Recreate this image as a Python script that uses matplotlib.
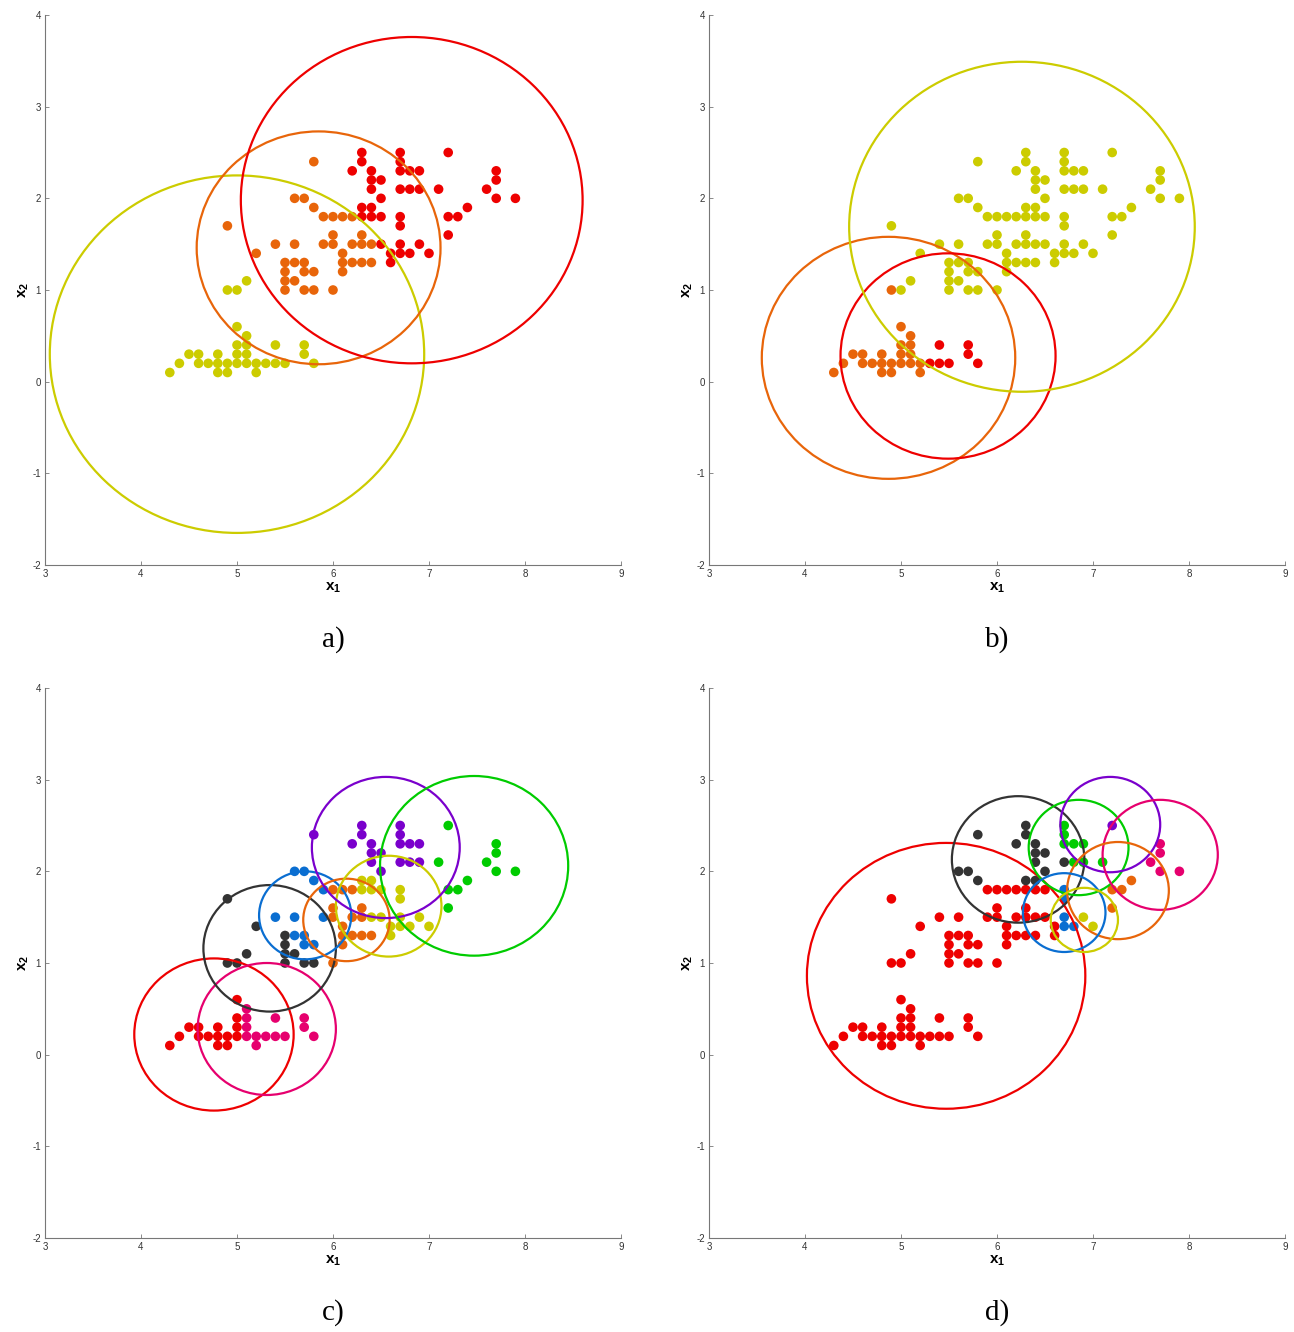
import matplotlib
matplotlib.use("Agg")
import matplotlib.pyplot as plt
from matplotlib.patches import Circle

plt.rcParams['axes.unicode_minus'] = False
plt.rcParams['font.family'] = ['Liberation Sans', 'DejaVu Sans']
plt.rcParams['mathtext.fontset'] = 'custom'
plt.rcParams['mathtext.bf'] = 'Liberation Sans:bold'
plt.rcParams['mathtext.rm'] = 'Liberation Sans'

# iris data: sepal length (x1) grouped by petal width (x2), unique points only
x2_levels = [0.1, 0.2, 0.3, 0.4, 0.5, 0.6, 1.0, 1.1, 1.2, 1.3, 1.4, 1.5,
             1.6, 1.7, 1.8, 1.9, 2.0, 2.1, 2.2, 2.3, 2.4, 2.5]
x1_rows = [
    [4.3, 4.8, 4.9, 5.2],
    [4.4, 4.6, 4.7, 4.8, 4.9, 5.0, 5.1, 5.2, 5.3, 5.4, 5.5, 5.8],
    [4.5, 4.6, 4.8, 5.0, 5.1, 5.7],
    [5.0, 5.1, 5.4, 5.7],
    [5.1],
    [5.0],
    [4.9, 5.0, 5.5, 5.7, 5.8, 6.0],
    [5.1, 5.5, 5.6],
    [5.5, 5.7, 5.8, 6.1],
    [5.5, 5.6, 5.7, 6.1, 6.2, 6.3, 6.4, 6.6],
    [5.2, 6.1, 6.6, 6.7, 6.8, 7.0],
    [5.4, 5.6, 5.9, 6.0, 6.2, 6.3, 6.4, 6.5, 6.7, 6.9],
    [6.0, 6.3, 7.2],
    [4.9, 6.7],
    [5.9, 6.0, 6.1, 6.2, 6.3, 6.4, 6.5, 6.7, 7.2, 7.3],
    [5.8, 6.3, 6.4, 7.4],
    [5.6, 5.7, 6.5, 7.7, 7.9],
    [6.4, 6.7, 6.8, 6.9, 7.1, 7.6],
    [6.4, 6.5, 7.7],
    [6.2, 6.4, 6.7, 6.8, 6.9, 7.7],
    [5.8, 6.3, 6.7],
    [6.3, 6.7, 7.2],
]

# cluster of every point, one string per row (same order as x1_rows)
labels_a = ["yyyy", "yyyyyyyyyyyy", "yyyyyy", "yyyy", "y", "y",
            "yyoooo", "yoo", "oooo", "ooooooor", "oorrrr", "ooooooorrr",
            "oor", "or", "oooorrrrrr", "orrr", "oorrr", "rrrrrr", "rrr",
            "rrrrrr", "orr", "rrr"]
labels_b = ["oooo", "oooooooorrrr", "ooooor", "oorr", "o", "o",
            "oyyyyy", "yyy", "yyyy", "yyyyyyyy", "yyyyyy", "yyyyyyyyyy",
            "yyy", "yy", "yyyyyyyyyy", "yyyy", "yyyyy", "yyyyyy", "yyy",
            "yyyyyy", "yyy", "yyy"]
labels_c = ["rrrm", "rrrrrrmmmmmm", "rrrrmm", "rmmm", "m", "r",
            "kkkkko", "kkk", "kbbo", "kbbooooy", "koyyyy", "bbboooyyyy",
            "oog", "ky", "boooyyyygg", "byyg", "bbpgg", "ppppgg", "ppg",
            "pppppg", "ppp", "ppg"]
labels_d = ["rrrr", "rrrrrrrrrrrr", "rrrrrr", "rrrr", "r", "r",
            "rrrrrr", "rrr", "rrrr", "rrrrrrrr", "rrrbby", "rrrrrrrrby",
            "rro", "rb", "rrrrrrrboo", "kkko", "kkkmm", "kkgggm", "kkm",
            "kkgggm", "kkg", "kgp"]

# cluster prototypes: (cluster, centre x1, centre x2, radius)
circles_a = [("y", 5.00, 0.30, 1.95), ("o", 5.85, 1.46, 1.27), ("r", 6.82, 1.98, 1.78)]
circles_b = [("o", 4.87, 0.26, 1.32), ("r", 5.49, 0.28, 1.12), ("y", 6.26, 1.69, 1.80)]
circles_c = [("r", 4.76, 0.22, 0.83), ("m", 5.31, 0.28, 0.72), ("k", 5.34, 1.16, 0.69),
             ("b", 5.71, 1.52, 0.48), ("o", 6.14, 1.47, 0.45), ("y", 6.58, 1.62, 0.55),
             ("p", 6.55, 2.26, 0.77), ("g", 7.47, 2.06, 0.98)]
circles_d = [("r", 5.47, 0.86, 1.45), ("k", 6.22, 2.13, 0.69), ("g", 6.85, 2.26, 0.52),
             ("p", 7.18, 2.51, 0.52), ("m", 7.70, 2.18, 0.60), ("o", 7.26, 1.79, 0.53),
             ("b", 6.70, 1.55, 0.43), ("y", 6.91, 1.47, 0.35)]

colors = {"r": "#ee0000", "o": "#e8650a", "y": "#cccc00", "k": "#333333",
          "b": "#0a6ed1", "p": "#7a00cc", "g": "#00cc00", "m": "#e6006e"}

W, H = 1294, 1332
fig = plt.figure(figsize=(W / 100, H / 100), dpi=100)

panels = [
    (labels_a, circles_a, 45, 15, "a)"),
    (labels_b, circles_b, 709, 15, "b)"),
    (labels_c, circles_c, 45, 688, "c)"),
    (labels_d, circles_d, 709, 688, "d)"),
]

for labels, circles, left, top, tag in panels:
    ax = fig.add_axes([left / W, 1 - (top + 550) / H, 576 / W, 550 / H])
    for x2, row, lab in zip(x2_levels, x1_rows, labels):
        for x1, c in zip(row, lab):
            ax.scatter(x1, x2, s=48, color=colors[c], edgecolors="none", zorder=2)
    for c, cx, cy, r in circles:
        ax.add_patch(Circle((cx, cy), r, fill=False, edgecolor=colors[c], lw=1.6, zorder=3))
    ax.set_xlim(3, 9)
    ax.set_ylim(-2, 4)
    ax.set_xticks(range(3, 10))
    ax.set_yticks(range(-2, 5))
    for s in ["top", "right"]:
        ax.spines[s].set_visible(False)
    for s in ["left", "bottom"]:
        ax.spines[s].set_color("#777777")
        ax.spines[s].set_linewidth(0.8)
    ax.tick_params(direction="in", length=3, width=0.6, labelsize=7,
                   colors="#777777", labelcolor="#333333", pad=3)
    ax.set_xlabel("$\\mathbf{x}_\\mathbf{1}$", fontsize=11, labelpad=1)
    ax.set_ylabel("$\\mathbf{x}_\\mathbf{2}$", fontsize=11, labelpad=1)
    fig.text((left + 288) / W, 1 - (top + 625) / H, tag, fontsize=21,
             family="Liberation Serif", ha="center", va="center")

fig.savefig("out.png", dpi=100)
